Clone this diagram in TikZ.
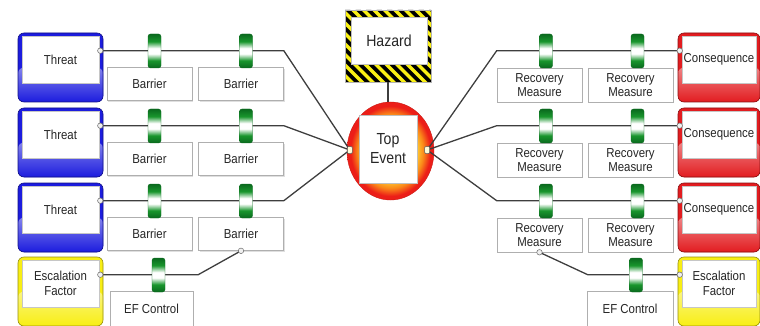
\documentclass[tikz,border=0pt]{standalone}
\usepackage{fontspec}
\setmainfont{Liberation Sans}[FakeStretch=0.88]
\usetikzlibrary{calc,shadows,shapes.geometric}

\definecolor{wire}{RGB}{62,62,62}
\definecolor{ink}{RGB}{38,38,38}
\definecolor{edge}{RGB}{175,175,175}
\definecolor{threatblue}{RGB}{28,28,222}
\definecolor{conred}{RGB}{226,28,32}
\definecolor{escyellow}{RGB}{248,238,20}
\definecolor{ringgreen}{RGB}{25,150,45}
\definecolor{ringdark}{RGB}{10,105,30}
\definecolor{teyellow}{RGB}{255,205,50}
\definecolor{teorange}{RGB}{250,135,25}
\definecolor{tered}{RGB}{236,30,24}
\definecolor{hazyellow}{RGB}{250,240,20}

% barrier ring: green ends, white band in the middle (path spans 25bp..75bp)
\pgfdeclareverticalshading{ringshade}{100bp}{color(0bp)=(ringdark); color(25bp)=(ringdark); color(36bp)=(ringgreen); color(46bp)=(white); color(54bp)=(white); color(64bp)=(ringgreen); color(75bp)=(ringdark); color(100bp)=(ringdark)}
% top event: yellow-orange core, red rim (path edge at 25bp)
\pgfdeclareradialshading{topshade}{\pgfpoint{0bp}{0bp}}{color(0bp)=(teyellow); color(15bp)=(teyellow); color(19bp)=(teorange); color(23bp)=(tered); color(50bp)=(tered)}

\newcommand\lblfont{\fontsize{13}{14.5}\selectfont}
\newcommand\bigfont{\fontsize{16}{19}\selectfont}

\tikzset{
  wireline/.style={draw=wire, line width=1.3pt},
  barrierbox/.style={rectangle, draw=edge, fill=white, line width=0.6pt,
    minimum width=85pt, minimum height=33pt, inner sep=0pt, text=ink,
    font=\lblfont, align=center,
    drop shadow={shadow xshift=1.3pt, shadow yshift=-1.3pt, opacity=0.25}},
  ring/.style={rectangle, rounded corners=2.5pt, minimum width=13pt,
    minimum height=34pt, inner sep=0pt, shading=ringshade, draw=ringdark,
    line width=0.4pt},
  joint/.style={circle, minimum size=5.5pt, inner sep=0pt, fill=gray!12,
    draw=gray!80!black, line width=0.5pt},
  tejoint/.style={rectangle, rounded corners=1pt, minimum width=5pt,
    minimum height=7pt, inner sep=0pt, fill=yellow!15, draw=gray!70!black,
    line width=0.5pt},
  sideframe/.style={rectangle, rounded corners=6pt, minimum height=69pt,
    inner sep=0pt, line width=0.6pt},
  sideinner/.style={rectangle, fill=white, draw=gray!45, line width=0.5pt,
    minimum height=47pt, inner sep=0pt, text=ink, font=\lblfont, align=center},
  whitebox/.style={rectangle, fill=white, draw=gray!50, line width=0.5pt,
    inner sep=0pt, text=ink, font=\bigfont, align=center},
}

% coloured frame with white panel: name, left, top, width, colour, text
\newcommand\sidebox[6]{%
  \node[sideframe, minimum width=#4pt, fill=#5, draw=#5!60!black,
    path picture={\shade[top color=#5!10, bottom color=#5]
      (path picture bounding box.west) rectangle (path picture bounding box.south east);}]
    (#1-frame) at (#2+#4/2, #3+34.5) {};
  \node[sideinner, minimum width=#4pt-8pt] (#1) at (#2+#4/2, #3+26.5) {#6};
}

\begin{document}
\begin{tikzpicture}[x=1pt,y=-1pt]
\useasboundingbox (0,0) rectangle (760,326);
\clip (0,0) rectangle (760,326);

% threats, consequences, escalation factors
\sidebox{t1}{18}{33}{85}{threatblue}{Threat}
\sidebox{t2}{18}{108}{85}{threatblue}{Threat}
\sidebox{t3}{18}{183}{85}{threatblue}{Threat}
\sidebox{e1}{18}{257}{85}{escyellow}{Escalation\\Factor}
\sidebox{c1}{678}{33}{82}{conred}{Consequence}
\sidebox{c2}{678}{108}{82}{conred}{Consequence}
\sidebox{c3}{678}{183}{82}{conred}{Consequence}
\sidebox{e2}{678}{257}{82}{escyellow}{Escalation\\Factor}

% barriers
\node[barrierbox] (b11) at (149.5,84) {Barrier};
\node[barrierbox] (b12) at (241,84) {Barrier};
\node[barrierbox] (b21) at (149.5,159) {Barrier};
\node[barrierbox] (b22) at (241,159) {Barrier};
\node[barrierbox] (b31) at (149.5,234) {Barrier};
\node[barrierbox] (b32) at (241,234) {Barrier};

% recovery measures
\node[barrierbox, minimum height=34pt] (r11) at (539.5,85) {Recovery\\Measure};
\node[barrierbox, minimum height=34pt] (r12) at (630.5,85) {Recovery\\Measure};
\node[barrierbox, minimum height=34pt] (r21) at (539.5,160) {Recovery\\Measure};
\node[barrierbox, minimum height=34pt] (r22) at (630.5,160) {Recovery\\Measure};
\node[barrierbox, minimum height=34pt] (r31) at (539.5,235) {Recovery\\Measure};
\node[barrierbox, minimum height=34pt] (r32) at (630.5,235) {Recovery\\Measure};

% escalation factor controls
\node[barrierbox, minimum width=83pt, minimum height=36pt] (f1) at (151.5,309) {EF Control};
\node[barrierbox, minimum width=86pt, minimum height=36pt] (f2) at (630,309) {EF Control};

% hazard with striped frame
\node[rectangle, minimum width=86pt, minimum height=72pt, inner sep=0pt,
  draw=gray!60, line width=0.4pt,
  path picture={
    \fill[hazyellow] (path picture bounding box.south west) rectangle (path picture bounding box.north east);
    \foreach \k in {-12,...,12}
      \fill[black] ($(path picture bounding box.north west)+(\k*10.5,0)$)
        -- ++(5.25,0) -- ++(90,90) -- ++(-5.25,0) -- cycle;
  }] (hzf) at (388,46) {};
\node[whitebox, minimum width=76pt, minimum height=47pt] (hz) at (389,40.5) {Hazard};

% top event
\node[ellipse, minimum width=87pt, minimum height=98pt, inner sep=0pt,
  shading=topshade, draw=tered!85!black, line width=0.4pt] (te) at (390.5,151) {};
\node[whitebox, minimum width=58pt, minimum height=68pt] (tebox) at (388,149) {Top\\Event};

% connection points
\coordinate (tel) at ($(te.west)+(3,-1)$);
\coordinate (ter) at ($(te.east)+(-7,-1)$);
\coordinate (t1p) at ($(t1-frame.north east)+(-3,18)$);
\coordinate (t2p) at ($(t2-frame.north east)+(-3,18)$);
\coordinate (t3p) at ($(t3-frame.north east)+(-3,18)$);
\coordinate (e1p) at ($(e1-frame.north east)+(-3,18)$);
\coordinate (c1p) at ($(c1-frame.north west)+(2,18)$);
\coordinate (c2p) at ($(c2-frame.north west)+(2,18)$);
\coordinate (c3p) at ($(c3-frame.north west)+(2,18)$);
\coordinate (e2p) at ($(e2-frame.north west)+(2,18)$);

% pathways
\draw[wireline] (t1p) -- (t1p -| b12.east) -- (tel);
\draw[wireline] (t2p) -- (t2p -| b12.east) -- (tel);
\draw[wireline] (t3p) -- (t3p -| b12.east) -- (tel);
\draw[wireline] (c1p) -- (c1p -| r11.west) -- (ter);
\draw[wireline] (c2p) -- (c2p -| r11.west) -- (ter);
\draw[wireline] (c3p) -- (c3p -| r11.west) -- (ter);
\draw[wireline] (b32.south) -- (e1p -| b12.west) -- (e1p);
\draw[wireline] (r31.south) -- (e2p -| r32.west) -- (e2p);
\draw[wireline] (hzf.south) -- (hzf.south |- te.north);

% barrier rings on the pathways
\node[ring] (g11) at (154.5,51) {};
\node[ring] (g12) at (246,51) {};
\node[ring] (g21) at (154.5,126) {};
\node[ring] (g22) at (246,126) {};
\node[ring] (g31) at (154.5,201) {};
\node[ring] (g32) at (246,201) {};
\node[ring] (h11) at (546,51) {};
\node[ring] (h12) at (637.5,51) {};
\node[ring] (h21) at (546,126) {};
\node[ring] (h22) at (637.5,126) {};
\node[ring] (h31) at (546,201) {};
\node[ring] (h32) at (637.5,201) {};
\node[ring] (k1) at (158.5,275) {};
\node[ring] (k2) at (636,275) {};

% joints
\node[joint] (t1j) at (t1p) {};
\node[joint] (t2j) at (t2p) {};
\node[joint] (t3j) at (t3p) {};
\node[joint] (e1j) at (e1p) {};
\node[joint] (c1j) at (c1p) {};
\node[joint] (c2j) at (c2p) {};
\node[joint] (c3j) at (c3p) {};
\node[joint] (e2j) at (e2p) {};
\node[joint] (b32j) at (b32.south) {};
\node[joint] (r31j) at (r31.south) {};
\node[tejoint] (telj) at (tel) {};
\node[tejoint] (terj) at (ter) {};
\end{tikzpicture}
\end{document}
